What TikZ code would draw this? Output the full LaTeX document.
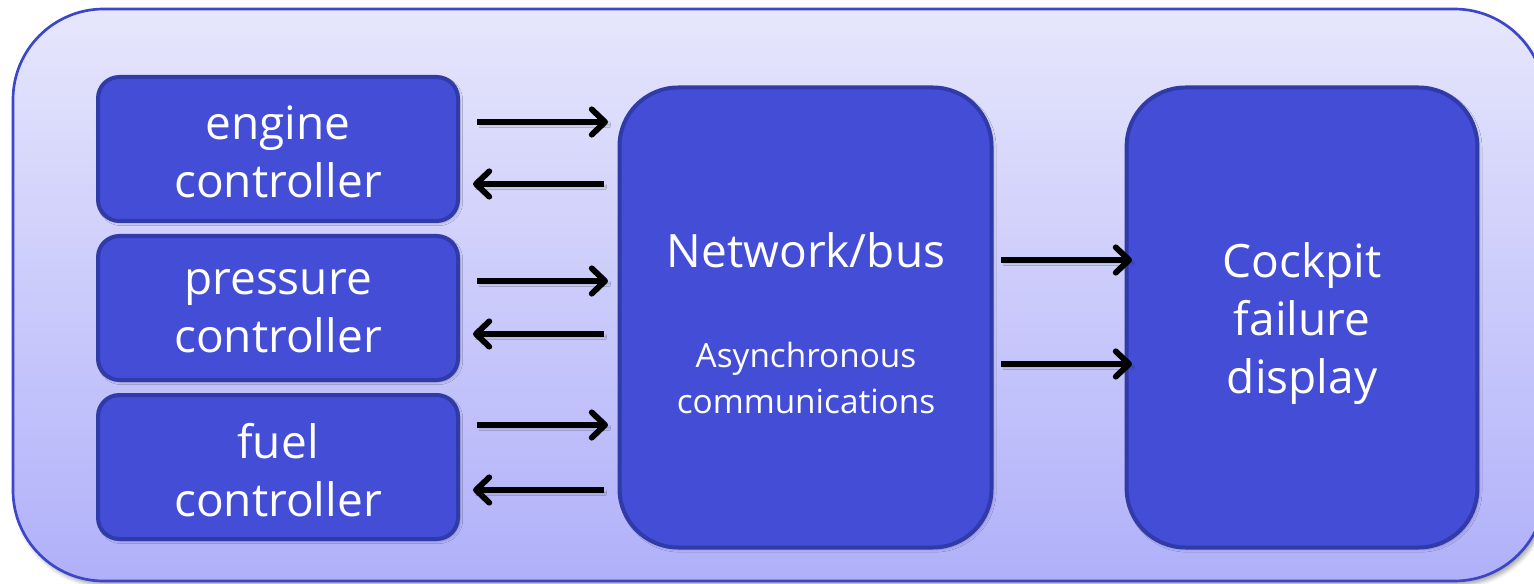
\documentclass[tikz,border=0pt]{standalone}
\usepackage{fontspec}
\setmainfont{Open Sans}
\usetikzlibrary{arrows.meta,shadows.blur}
\definecolor{boxfill}{RGB}{67,77,214}
\definecolor{boxline}{RGB}{48,58,168}
\definecolor{panelline}{RGB}{60,70,200}
\definecolor{paneltop}{RGB}{230,230,252}
\definecolor{panelbot}{RGB}{176,176,250}
\tikzset{
  unit/.style={draw=boxline, line width=3pt, fill=boxfill,
    rounded corners=16pt, inner sep=0pt,
    blur shadow={shadow xshift=1.5pt, shadow yshift=-1.5pt, shadow blur radius=2pt, shadow opacity=25}},
  bigtext/.style={text=white, align=center, font=\fontsize{34.5}{43.5}\selectfont},
  ctrl/.style={unit, minimum width=270pt, minimum height=108pt},
  bigbox/.style={unit, rounded corners=44pt, minimum height=345pt},
  flow/.style={line width=4.4pt, -{Straight Barb[length=10pt,width=19pt,line width=4.4pt,line cap=round,round]},
    blur shadow={shadow xshift=1.5pt, shadow yshift=-2pt, shadow blur radius=2pt, shadow opacity=30}}
}
\begin{document}
\begin{tikzpicture}[x=0.75pt,y=-0.75pt]
\useasboundingbox (0,0) rectangle (1534,584);
% outer panel
\shade[top color=paneltop, bottom color=panelbot, draw=panelline, line width=2pt,
  rounded corners=68pt,
  blur shadow={shadow xshift=2pt, shadow yshift=-3pt, shadow blur radius=3pt, shadow opacity=35}]
  (13,9) rectangle (1545,581);
% controller boxes
\node[ctrl] (eng) at (278,149) {};
\node[ctrl] (prs) at (278,308) {};
\node[ctrl] (fuel) at (278,467) {};
\node[bigtext] (englbl) at (278,152) {engine\\controller};
\node[bigtext] (prslbl) at (278,311) {pressure\\controller};
\node[bigtext] (fuellbl) at (278,470) {fuel\\controller};
% network and display
\node[bigbox, minimum width=279pt] (net) at (805.5,317.5) {};
\node[bigtext] (netlbl) at (806,250) {Network/bus};
\node[text=white, align=center, font=\fontsize{25}{34}\selectfont] (asyn) at (806,378) {Asynchronous\\communications};
\node[bigbox, minimum width=263pt] (cock) at (1302,317.5) {};
\node[bigtext] (cocklbl) at (1302,324) {Cockpit\\failure\\display};
% links between controllers and the bus
\coordinate (a1s) at (477,122); \coordinate (a1e) at (608,122);
\coordinate (b1s) at (604,184); \coordinate (b1e) at (473,184);
\coordinate (a2s) at (477,281); \coordinate (a2e) at (608,281);
\coordinate (b2s) at (604,334); \coordinate (b2e) at (473,334);
\coordinate (a3s) at (477,425); \coordinate (a3e) at (608,425);
\coordinate (b3s) at (604,490); \coordinate (b3e) at (473,490);
\draw[flow] (a1s) -- (a1e);
\draw[flow] (b1s) -- (b1e);
\draw[flow] (a2s) -- (a2e);
\draw[flow] (b2s) -- (b2e);
\draw[flow] (a3s) -- (a3e);
\draw[flow] (b3s) -- (b3e);
% bus to display
\coordinate (c1s) at (1001,260); \coordinate (c1e) at (1132,260);
\coordinate (c2s) at (1001,364); \coordinate (c2e) at (1132,364);
\draw[flow] (c1s) -- (c1e);
\draw[flow] (c2s) -- (c2e);
\end{tikzpicture}
\end{document}
